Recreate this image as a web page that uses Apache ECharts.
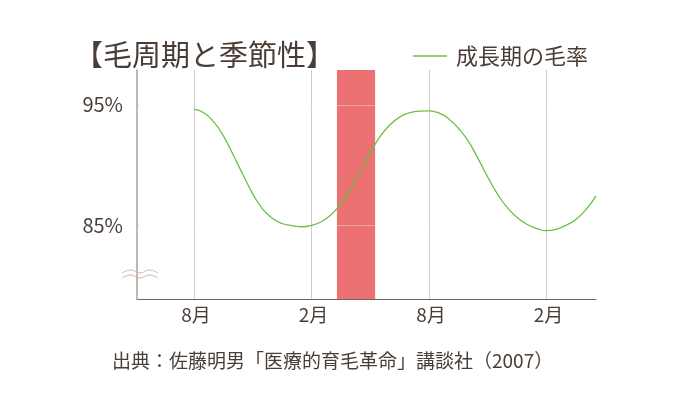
<!DOCTYPE html>
<html>
<head>
<meta charset="utf-8">
<script src="https://cdn.jsdelivr.net/npm/echarts@6/dist/echarts.min.js"></script>
<style>
html,body{margin:0;padding:0;background:#fff;}
#chart{width:680px;height:412px;}
</style>
</head>
<body>
<div id="chart"></div>
<script>
// ---- data ----
var titleText = '【毛周期と季節性】';
var sourceText = '出典：佐藤明男「医療的育毛革命」講談社（2007）';
var seriesName = '成長期の毛率';
// x = month count (8 = first August, 14 = February, 20 = August, 26 = February)
var months = [8, 8.5, 9, 9.5, 10, 10.5, 11, 11.5, 12, 12.5, 13, 13.5, 14, 14.5, 15, 15.5, 16, 16.5, 17, 17.5, 18, 18.5, 19, 19.5, 20, 20.5, 21, 21.5, 22, 22.5, 23, 23.5, 24, 24.5, 25, 25.5, 26, 26.5, 27, 27.5, 28, 28.53];
var rates  = [94.64, 94.35, 93.6, 92.42, 90.85, 89.2, 87.6, 86.35, 85.57, 85.13, 84.95, 84.86, 84.97, 85.28, 85.85, 86.78, 88.0, 89.5, 91.0, 92.36, 93.32, 93.98, 94.33, 94.48, 94.5, 94.33, 93.85, 93.05, 92.0, 90.55, 89.0, 87.58, 86.45, 85.63, 85.07, 84.72, 84.53, 84.65, 84.98, 85.47, 86.25, 87.4];
var bandRange = [15.3, 17.25];
var xTickValues = [8, 14, 20, 26];
var xTickLabels = ['8月', '2月', '8月', '2月'];
var yTickValues = [85, 95];
var yTickLabels = ['85%', '95%'];
var xRange = [5.09, 28.53];
var yRange = [78.85, 97.9];

// ---- chart ----
var FONT = '"Noto Sans CJK JP", "Noto Sans", sans-serif';
var TXT = '#4a3d36';
var GREEN = '#6cbf45';
var chart = echarts.init(document.getElementById('chart'), null, {renderer: 'canvas'});
var lineData = months.map(function (m, i) { return [m, rates[i]]; });

function wave(y) {
  return [[122, y], [131, y - 3], [140, y], [149, y - 3], [158, y]];
}

chart.setOption({
  backgroundColor: '#fff',
  animation: false,
  textStyle: {fontFamily: FONT, color: TXT},
  title: [
    {text: titleText, left: 69, top: 35,
     textStyle: {fontFamily: FONT, fontSize: 29, fontWeight: 'normal', color: TXT}},
    {text: sourceText, left: 107, top: 346,
     textStyle: {fontFamily: FONT, fontSize: 19, fontWeight: 'normal', color: TXT}}
  ],
  legend: {
    data: [seriesName], left: 408, top: 40,
    icon: 'rect', itemWidth: 34, itemHeight: 1.3,
    textStyle: {fontFamily: FONT, fontSize: 22, color: TXT, padding: [0, 0, 0, 4]}
  },
  grid: {left: 137, right: 84, top: 70, bottom: 113},
  xAxis: {
    type: 'value', min: xRange[0], max: xRange[1],
    axisLine: {show: true, lineStyle: {color: '#6f6661', width: 1.2}},
    axisTick: {show: false, customValues: xTickValues},
    axisLabel: {
      customValues: xTickValues, margin: 6, padding: [0, 0, 0, 4],
      fontFamily: FONT, fontSize: 19, color: TXT,
      formatter: function (v) { var i = xTickValues.indexOf(v); return i >= 0 ? xTickLabels[i] : ''; }
    },
    splitLine: {show: true, lineStyle: {color: '#cfcbc8', width: 1}}
  },
  yAxis: {
    type: 'value', min: yRange[0], max: yRange[1], z: 3,
    axisLine: {show: true, lineStyle: {color: '#a8a19c', width: 1.5}},
    axisTick: {show: true, inside: true, length: 2, customValues: yTickValues, lineStyle: {color: '#bbb'}},
    axisLabel: {
      customValues: yTickValues, margin: 14,
      fontFamily: FONT, fontSize: 20, color: TXT,
      formatter: function (v) { var i = yTickValues.indexOf(v); return i >= 0 ? yTickLabels[i] : ''; }
    },
    splitLine: {show: true, lineStyle: {color: 'rgba(255,255,255,0.35)', width: 1}}
  },
  series: [
    {
      name: 'band', type: 'line', data: [], silent: true,
      markArea: {
        silent: true,
        label: {show: false},
        itemStyle: {color: '#ec7172'},
        data: [[{xAxis: bandRange[0]}, {xAxis: bandRange[1]}]]
      }
    },
    {
      name: seriesName, type: 'line', data: lineData,
      smooth: 0.5, symbol: 'none', showSymbol: false, z: 4,
      lineStyle: {color: GREEN, width: 1.3},
      itemStyle: {color: GREEN}
    }
  ],
  graphic: [
    {type: 'polyline', silent: true, z: 10,
     shape: {points: wave(273), smooth: 0.5},
     style: {fill: null, stroke: '#d2b7a6', lineWidth: 1}},
    {type: 'polyline', silent: true, z: 10,
     shape: {points: wave(278), smooth: 0.5},
     style: {fill: null, stroke: '#d2b7a6', lineWidth: 1}}
  ]
});
</script>
</body>
</html>
